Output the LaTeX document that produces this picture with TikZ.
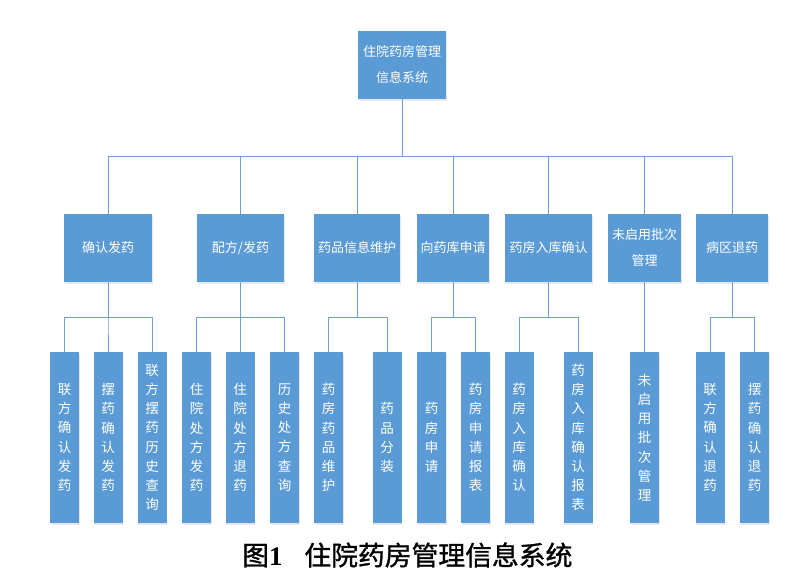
\documentclass[tikz,border=0pt]{standalone}
\usepackage{fontspec}
\setmainfont{Liberation Serif}
\newfontfamily\cjk{Noto Sans CJK SC}
\newfontfamily\cjkcap[FakeBold=1.2]{Noto Sans CJK SC}
\usetikzlibrary{shadows}
\definecolor{boxblue}{RGB}{91,155,213}
\definecolor{lineblue}{RGB}{108,160,214}
\tikzset{
  box/.style={fill=boxblue, text=white, align=center, inner sep=0pt,
    drop shadow={shadow xshift=0.8pt, shadow yshift=-1.8pt, opacity=0.18}},
  topbox/.style={box, minimum width=88pt, minimum height=68pt,
    font=\cjk\fontsize{13}{26}\selectfont},
  modbox/.style={box, minimum height=68pt, font=\cjk\fontsize{13}{26}\selectfont},
  leafbox/.style={box, minimum width=29pt, minimum height=171pt, text width=29pt,
    font=\cjk\fontsize{13.5}{19.2}\selectfont},
  link/.style={draw=lineblue, line width=0.8pt}
}
\begin{document}
\begin{tikzpicture}[x=1pt, y=-1pt]
  \useasboundingbox[fill=white] (0,0) rectangle (800,582);
  % root
  \node[topbox] (root) at (402,65) {住院药房管理\\信息系统};
  % modules
  \node[modbox, minimum width=88pt] (m1) at (108,248) {确认发药};
  \node[modbox, minimum width=87pt] (m2) at (240.5,248) {配方/发药};
  \node[modbox, minimum width=86pt] (m3) at (357,248) {药品信息维护};
  \node[modbox, minimum width=72pt] (m4) at (453,248) {向药库申请};
  \node[modbox, minimum width=87pt] (m5) at (548.5,248) {药房入库确认};
  \node[modbox, minimum width=73pt] (m6) at (644.5,248) {未启用批次\\管理};
  \node[modbox, minimum width=72pt] (m7) at (732,248) {病区退药};
  % leaves
  \foreach \name/\x/\txt in {
      l1/64.5/{联\\方\\确\\认\\发\\药},
      l2/108/{摆\\药\\确\\认\\发\\药},
      l3/152/{联\\方\\摆\\药\\历\\史\\查\\询},
      l4/196.5/{住\\院\\处\\方\\发\\药},
      l5/240/{住\\院\\处\\方\\退\\药},
      l6/284.5/{历\\史\\处\\方\\查\\询},
      l7/328.5/{药\\房\\药\\品\\维\\护},
      l8/387/{药\\品\\分\\装},
      l9/431.5/{药\\房\\申\\请},
      l10/475.5/{药\\房\\申\\请\\报\\表},
      l11/519/{药\\房\\入\\库\\确\\认},
      l12/578/{药\\房\\入\\库\\确\\认\\报\\表},
      l13/644.5/{未\\启\\用\\批\\次\\管\\理},
      l14/710/{联\\方\\确\\认\\退\\药},
      l15/754.5/{摆\\药\\确\\认\\退\\药}}
    \node[leafbox] (\name) at (\x,437.5) {\txt};
  % connectors
  \foreach \c in {m1,m2,m3,m4,m5,m6,m7}
    \draw[link] (root.south) -- ++(0,57) -| (\c.north);
  \foreach \p/\c in {m1/l1,m1/l2,m1/l3,m2/l4,m2/l5,m2/l6,m3/l7,m3/l8,
      m4/l9,m4/l10,m5/l11,m5/l12,m6/l13,m7/l14,m7/l15}
    \draw[link] (\p.south) -- ++(0,35) -| (\c.north);
  % caption
  \node[anchor=west, inner sep=0pt, font=\fontsize{26.8}{27}\selectfont] (caption) at (242,555)
    {{\cjkcap 图}\textbf{1}\hspace{22pt}{\cjkcap 住院药房管理信息系统}};
\end{tikzpicture}
\end{document}
